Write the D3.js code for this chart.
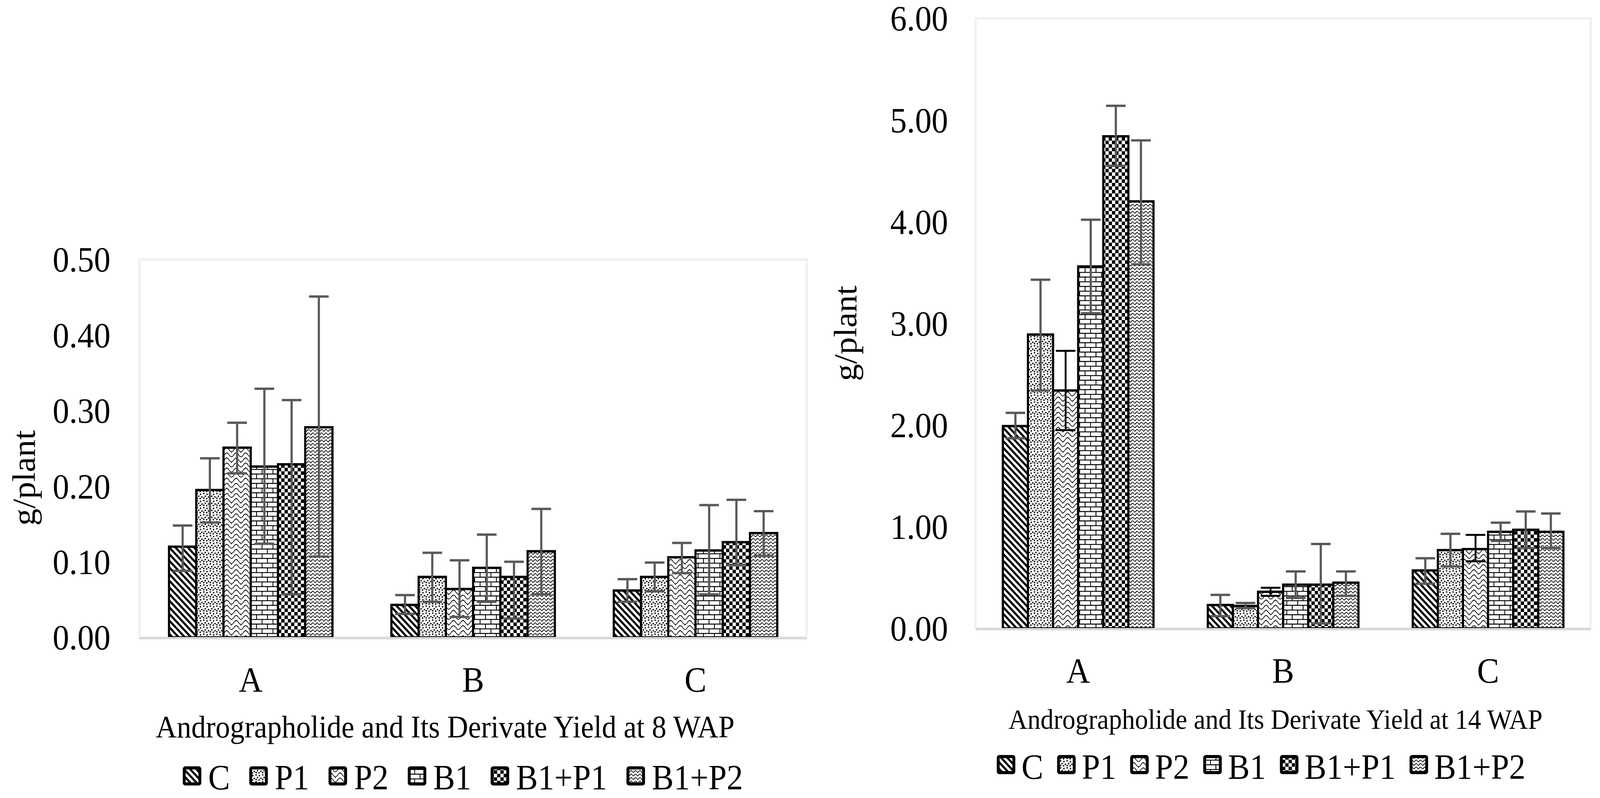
<!DOCTYPE html>
<html>
<head>
<meta charset="utf-8">
<script src="https://cdn.jsdelivr.net/npm/d3@7"></script>
<style>
  html, body { margin: 0; padding: 0; background: #fff; width: 100%; height: 100%; overflow: hidden; }
  #chart { width: 100vw; height: 100vh; }
  svg { display: block; }
  text { font-family: "Liberation Serif", "Times New Roman", serif; fill: #000; }
</style>
</head>
<body>
<div id="chart"></div>
<script>
// categories and series
const groups = ['A', 'B', 'C']
const series = ['C', 'P1', 'P2', 'B1', 'B1+P1', 'B1+P2']

// 8 WAP (g/plant) - one row per series, values for A, B, C
const wap8Mean = [
  [0.120, 0.043, 0.062],
  [0.195, 0.080, 0.080],
  [0.251, 0.064, 0.106],
  [0.226, 0.092, 0.115],
  [0.229, 0.080, 0.126],
  [0.278, 0.114, 0.138]
]
const wap8Upper = [
  [0.148, 0.056, 0.077],
  [0.237, 0.112, 0.099],
  [0.284, 0.102, 0.125],
  [0.329, 0.136, 0.175],
  [0.314, 0.100, 0.182],
  [0.451, 0.170, 0.167]
]
const wap8Lower = [
  [0.088, 0.031, 0.047],
  [0.152, 0.047, 0.061],
  [0.217, 0.027, 0.085],
  [0.124, 0.047, 0.057],
  [0.057, 0.025, 0.096],
  [0.107, 0.057, 0.108]
]

// 14 WAP (g/plant)
const wap14Mean = [
  [1.99, 0.23, 0.57],
  [2.89, 0.22, 0.77],
  [2.34, 0.36, 0.78],
  [3.56, 0.43, 0.95],
  [4.84, 0.43, 0.97],
  [4.20, 0.45, 0.95]
]
const wap14Upper = [
  [2.12, 0.33, 0.69],
  [3.43, 0.25, 0.93],
  [2.73, 0.40, 0.92],
  [4.02, 0.56, 1.04],
  [5.14, 0.83, 1.15],
  [4.80, 0.56, 1.13]
]
const wap14Lower = [
  [1.87, 0.12, 0.44],
  [2.34, 0.20, 0.61],
  [1.95, 0.32, 0.66],
  [3.10, 0.30, 0.86],
  [4.55, 0.05, 0.79],
  [3.58, 0.32, 0.79]
]

// axis ticks
const wap8Ticks = [0, 0.1, 0.2, 0.3, 0.4, 0.5]
const wap14Ticks = [0, 1, 2, 3, 4, 5, 6]

const W = 4403, H = 2042

// stretch the drawing over the whole window
const svg = d3.select('#chart').append('svg')
  .attr('width', '100%').attr('height', '100%')
  .attr('viewBox', `0 0 ${W} ${H}`)
  .attr('preserveAspectRatio', 'none')

// fill patterns, one per series (black on white, like Excel pattern fills)
const defs = svg.append('defs')
function pattern(id, w, h) {
  const p = defs.append('pattern').attr('id', id)
    .attr('patternUnits', 'userSpaceOnUse').attr('width', w).attr('height', h)
  p.append('rect').attr('width', w).attr('height', h).attr('fill', '#fff')
  return p
}
// C - wide downward diagonal
let p = pattern('pat0', 17, 17)
p.append('path').attr('d', 'M-4,-4 L21,21 M-4,13 L4,21 M13,-4 L21,4')
  .attr('stroke', '#000').attr('stroke-width', 5.5)
// P1 - confetti dots
p = pattern('pat1', 18, 18)
;[[1, 1], [10, 3], [5, 8], [14, 10], [1, 13], [9, 14]].forEach(([x, y]) =>
  p.append('rect').attr('x', x).attr('y', y).attr('width', 3.6).attr('height', 3.6).attr('fill', '#000'))
// P2 - shingle / scale curves
p = pattern('pat2', 26, 26)
p.append('path')
  .attr('d', 'M0,2 C6,2 7,12 13,12 C19,12 20,2 26,2 M0,15 C6,15 7,25 13,25 C19,25 20,15 26,15')
  .attr('fill', 'none').attr('stroke', '#000').attr('stroke-width', 1.8)
p.append('path').attr('d', 'M13,12 L13,15 M0,2 L0,-1 M26,2 L26,-1')
  .attr('stroke', '#000').attr('stroke-width', 1.8)
// B1 - horizontal brick
p = pattern('pat3', 30, 24)
p.append('path').attr('d', 'M0,1 H30 M0,13 H30 M1,1 V13 M16,13 V25 M16,-1 V0')
  .attr('stroke', '#000').attr('stroke-width', 2.4)
// B1+P1 - small checker board
p = pattern('pat4', 18, 18)
p.append('rect').attr('x', 0).attr('y', 0).attr('width', 9).attr('height', 9).attr('fill', '#000')
p.append('rect').attr('x', 9).attr('y', 9).attr('width', 9).attr('height', 9).attr('fill', '#000')
// B1+P2 - small wave
p = pattern('pat5', 12, 9)
p.append('path').attr('d', 'M0,3 Q3,8 6,3 T12,3')
  .attr('fill', 'none').attr('stroke', '#000').attr('stroke-width', 2)

function drawChart(cfg) {
  const g = svg.append('g')

  const x = d3.scaleBand().domain(groups).range([cfg.left, cfg.right])
    .paddingInner(0.265).paddingOuter(0.1325)
  const xs = d3.scaleBand().domain(series).range([0, x.bandwidth()]).padding(0)
  const y = d3.scaleLinear().domain(cfg.domain).range([cfg.bottom, cfg.top])

  // plot area frame
  g.append('rect')
    .attr('x', cfg.left).attr('y', y(cfg.domain[1]))
    .attr('width', cfg.right - cfg.left).attr('height', cfg.bottom - y(cfg.domain[1]))
    .attr('fill', 'none').attr('stroke', '#f0f0f0').attr('stroke-width', 6)

  // y tick labels (no tick marks, no gridlines)
  const yAxis = d3.axisLeft(y).tickValues(cfg.ticks).tickFormat(d3.format('.2f')).tickSize(0).tickPadding(0)
  const ya = g.append('g').attr('transform', `translate(${cfg.labelRight},0)`).call(yAxis)
  ya.select('.domain').remove()
  ya.selectAll('text').attr('font-size', 91).attr('dy', '0.34em')
    .style('font-family', '"Liberation Serif", "Times New Roman", serif')

  // bars
  const rows = []
  series.forEach((s, i) => groups.forEach((c, j) => {
    rows.push({ s, i, c, v: cfg.mean[i][j], hi: cfg.upper[i][j], lo: cfg.lower[i][j] })
  }))
  g.append('g').selectAll('rect').data(rows).join('rect')
    .attr('x', d => x(d.c) + xs(d.s))
    .attr('y', d => y(d.v))
    .attr('width', xs.bandwidth())
    .attr('height', d => y(0) - y(d.v))
    .attr('fill', d => `url(#pat${d.i})`)
    .attr('stroke', '#000').attr('stroke-width', 6)

  // x axis line
  g.append('line')
    .attr('x1', cfg.left).attr('x2', cfg.right)
    .attr('y1', y(0) + 2).attr('y2', y(0) + 2)
    .attr('stroke', '#d9d9d9').attr('stroke-width', 6)

  // error bars
  const cap = 27
  const eb = g.append('g').selectAll('g').data(rows).join('g')
    .attr('stroke', d => cfg.errColor[d.i])
    .attr('stroke-width', d => cfg.errColor[d.i] === '#000' ? 5 : 6)
  eb.append('line')
    .attr('x1', d => x(d.c) + xs(d.s) + xs.bandwidth() / 2)
    .attr('x2', d => x(d.c) + xs(d.s) + xs.bandwidth() / 2)
    .attr('y1', d => y(d.hi)).attr('y2', d => y(d.lo))
  ;['hi', 'lo'].forEach(k => {
    eb.append('line')
      .attr('x1', d => x(d.c) + xs(d.s) + xs.bandwidth() / 2 - cap)
      .attr('x2', d => x(d.c) + xs(d.s) + xs.bandwidth() / 2 + cap)
      .attr('y1', d => y(d[k])).attr('y2', d => y(d[k]))
  })

  // category labels
  g.append('g').selectAll('text').data(groups).join('text')
    .attr('x', d => x(d) + x.bandwidth() / 2)
    .attr('y', cfg.catBaseline)
    .attr('text-anchor', 'middle').attr('font-size', 91)
    .text(d => d)

  // axis titles
  g.append('text')
    .attr('x', cfg.titleX).attr('y', cfg.titleBaseline)
    .attr('text-anchor', 'middle').attr('font-size', cfg.titleSize)
    .text(cfg.title)
  g.append('text')
    .attr('transform', `translate(${cfg.yTitleX},${cfg.yTitleY}) rotate(-90)`)
    .attr('text-anchor', 'middle').attr('dy', '0.3em').attr('font-size', 88)
    .text('g/plant')

  // legend
  const lg = g.append('g')
  let lx = cfg.legendX
  series.forEach((s, i) => {
    lg.append('rect')
      .attr('x', lx + 4).attr('y', cfg.legendBoxY + 4)
      .attr('width', 43).attr('height', 41).attr('rx', 3)
      .attr('fill', `url(#pat${i})`).attr('stroke', '#000').attr('stroke-width', 8)
    const t = lg.append('text')
      .attr('x', lx + 51 + cfg.legendTextGap).attr('y', cfg.legendBaseline)
      .attr('font-size', 90).text(s)
    lx += 51 + cfg.legendTextGap + t.node().getComputedTextLength() + cfg.legendItemGap
  })
}

drawChart({
  mean: wap8Mean, upper: wap8Upper, lower: wap8Lower,
  domain: [0, 0.5], ticks: wap8Ticks,
  left: 384, right: 2220, top: 664, bottom: 1631,
  labelRight: 304, catBaseline: 1770,
  title: 'Andrographolide and Its Derivate Yield at 8 WAP',
  titleX: 1225, titleBaseline: 1887, titleSize: 80,
  yTitleX: 69, yTitleY: 1223,
  legendX: 503, legendBoxY: 1961, legendBaseline: 2020, legendTextGap: 19, legendItemGap: 53,
  errColor: ['#595959', '#595959', '#595959', '#595959', '#595959', '#595959']
})

drawChart({
  mean: wap14Mean, upper: wap14Upper, lower: wap14Lower,
  domain: [0, 6], ticks: wap14Ticks,
  left: 2685, right: 4377, top: 47, bottom: 1608,
  labelRight: 2609, catBaseline: 1747,
  title: 'Andrographolide and Its Derivate Yield at 14 WAP',
  titleX: 3510, titleBaseline: 1865, titleSize: 72,
  yTitleX: 2330, yTitleY: 853,
  legendX: 2743, legendBoxY: 1932, legendBaseline: 1993, legendTextGap: 17, legendItemGap: 38,
  errColor: ['#595959', '#595959', '#000', '#595959', '#595959', '#595959']
})
</script>
</body>
</html>
